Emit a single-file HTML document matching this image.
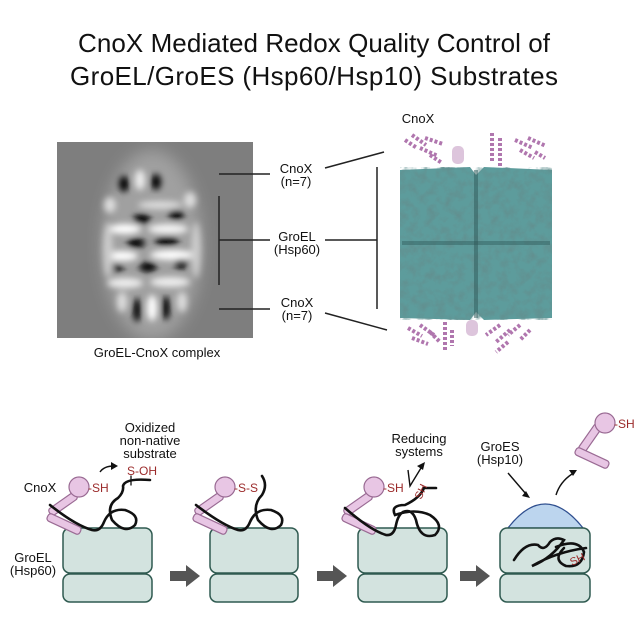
<!DOCTYPE html>
<html><head><meta charset="utf-8"><style>
html,body{margin:0;padding:0;background:#fff}
svg{display:block}
text{font-family:"Liberation Sans",Arial,sans-serif}
</style></head><body>
<svg width="640" height="640" viewBox="0 0 640 640" xmlns="http://www.w3.org/2000/svg">
<defs>
<filter id="b4" x="-50%" y="-50%" width="200%" height="200%"><feGaussianBlur stdDeviation="3.2"/></filter>
<filter id="b8" x="-50%" y="-50%" width="200%" height="200%"><feGaussianBlur stdDeviation="8"/></filter>
<filter id="tex" x="0" y="0" width="100%" height="100%">
<feTurbulence type="fractalNoise" baseFrequency="0.11" numOctaves="3" seed="5" result="n"/>
<feColorMatrix in="n" type="matrix" values="0 0 0 0 0.12  0 0 0 0 0.28  0 0 0 0 0.28  0 0 0 -2.2 1.35" result="c"/>
<feComposite in="c" in2="SourceGraphic" operator="in"/>
</filter>
<clipPath id="emclip"><rect x="57" y="142" width="196" height="196"/></clipPath>
</defs>
<rect width="640" height="640" fill="#fff"/>
<text x="314" y="52" font-size="26" text-anchor="middle" textLength="472" fill="#111">CnoX Mediated Redox Quality Control of</text>
<text x="314" y="85" font-size="26" text-anchor="middle" textLength="488" fill="#111">GroEL/GroES (Hsp60/Hsp10) Substrates</text>

<!-- EM image -->
<g clip-path="url(#emclip)">
<rect x="57" y="142" width="196" height="196" fill="#7e7e7e"/>
<ellipse cx="152" cy="245" rx="50" ry="95" fill="#a0a0a0" filter="url(#b8)"/>
<g filter="url(#b4)">
<ellipse cx="140" cy="180" rx="5" ry="10" fill="#eee"/>
<ellipse cx="110" cy="205" rx="6" ry="8" fill="#ddd"/>
<ellipse cx="190" cy="200" rx="6" ry="8" fill="#ddd"/>
<ellipse cx="160" cy="205" rx="22" ry="4" fill="#ddd"/>
<ellipse cx="125" cy="229" rx="16" ry="5" fill="#fff"/>
<ellipse cx="168" cy="229" rx="20" ry="5" fill="#f4f4f4"/>
<ellipse cx="122" cy="256" rx="16" ry="5" fill="#fff"/>
<ellipse cx="172" cy="255" rx="22" ry="5" fill="#fff"/>
<ellipse cx="125" cy="283" rx="18" ry="5" fill="#eee"/>
<ellipse cx="170" cy="282" rx="20" ry="5" fill="#eee"/>
<ellipse cx="108" cy="250" rx="5" ry="28" fill="#ccc"/>
<ellipse cx="196" cy="250" rx="5" ry="28" fill="#ccc"/>
<ellipse cx="152" cy="308" rx="5" ry="13" fill="#fff"/>
<ellipse cx="122" cy="302" rx="5" ry="10" fill="#ddd"/>
<ellipse cx="182" cy="302" rx="5" ry="10" fill="#ddd"/>
<ellipse cx="124" cy="184" rx="5" ry="8" fill="#000"/>
<ellipse cx="156" cy="182" rx="5" ry="8" fill="#000"/>
<ellipse cx="142" cy="219" rx="9" ry="5" fill="#000"/>
<ellipse cx="176" cy="215" rx="8" ry="5" fill="#000"/>
<ellipse cx="136" cy="243" rx="9" ry="5" fill="#000"/>
<ellipse cx="167" cy="241" rx="12" ry="5" fill="#000"/>
<ellipse cx="118" cy="268" rx="6" ry="4" fill="#111"/>
<ellipse cx="148" cy="267" rx="9" ry="5" fill="#000"/>
<ellipse cx="181" cy="264" rx="7" ry="5" fill="#000"/>
<ellipse cx="137" cy="310" rx="4" ry="12" fill="#000"/>
<ellipse cx="166" cy="308" rx="4" ry="12" fill="#000"/>
</g>
</g>
<text x="157" y="357" font-size="13" text-anchor="middle" fill="#111">GroEL-CnoX complex</text>

<!-- lines -->
<g stroke="#222" stroke-width="1.5" fill="none">
<line x1="219" y1="174" x2="270" y2="174"/>
<line x1="219" y1="196" x2="219" y2="285"/>
<line x1="219" y1="240" x2="270" y2="240"/>
<line x1="219" y1="309" x2="270" y2="309"/>
<line x1="325" y1="168" x2="384" y2="152"/>
<line x1="325" y1="240" x2="377" y2="240"/>
<line x1="377" y1="167" x2="377" y2="309"/>
<line x1="325" y1="313" x2="387" y2="330"/>
</g>
<g font-size="13" text-anchor="middle" fill="#111">
<text x="296" y="173">CnoX</text><text x="296" y="186">(n=7)</text>
<text x="297" y="241">GroEL</text><text x="297" y="254">(Hsp60)</text>
<text x="297" y="307">CnoX</text><text x="297" y="320">(n=7)</text>
<text x="418" y="123">CnoX</text>
</g>

<!-- protein -->
<g>
<path d="M400 170 L470 167 L476 175 L484 167 L552 170 L552 318 L484 320 L476 312 L470 320 L400 318 Z" fill="#5d9c9c"/>
<rect x="400" y="167" width="152" height="153" fill="#000" filter="url(#tex)"/>
<line x1="476" y1="170" x2="476" y2="318" stroke="#2f5a5a" stroke-width="4" opacity="0.5"/>
<line x1="402" y1="243" x2="550" y2="243" stroke="#2f5a5a" stroke-width="4" opacity="0.45"/>
<g fill="none" stroke="#a868a6" stroke-width="4" stroke-dasharray="3 2" opacity="0.9">
<path d="M405 140 l12 8 M412 135 l14 10 M420 148 l18 8 M425 138 l18 6 M430 155 l12 8"/>
<path d="M492 133 v30 M500 138 v28"/>
<path d="M515 140 l18 8 M520 150 l14 8 M528 138 l18 8 M535 152 l10 6"/>
<path d="M408 328 l14 8 M412 338 l16 6 M420 325 l14 10 M430 332 l10 10"/>
<path d="M445 322 v30 M452 330 v16"/>
<path d="M500 325 l-14 10 M510 330 l-14 12 M520 325 l-12 10 M530 330 l-10 10 M508 342 l-12 10"/>
</g>
<g fill="#d4b6d3" opacity="0.8">
<rect x="452" y="146" width="12" height="18" rx="5"/>
<rect x="466" y="320" width="12" height="16" rx="5"/>
</g>
</g>

<!-- bottom panels -->
<g stroke="#2f5a50" stroke-width="1.5" fill="#d3e3df">
<rect x="63" y="528" width="89" height="45" rx="7"/>
<rect x="63" y="574" width="89" height="28" rx="7"/>
<rect x="210" y="528" width="88" height="45" rx="7"/>
<rect x="210" y="574" width="88" height="28" rx="7"/>
<rect x="358" y="528" width="89" height="45" rx="7"/>
<rect x="358" y="574" width="89" height="28" rx="7"/>
</g>
<path d="M508 528 Q545 480 583 528 Z" fill="#bcd5ee" stroke="#2f4f8f" stroke-width="1.3"/>
<g stroke="#2f5a50" stroke-width="1.5" fill="#d3e3df">
<rect x="500" y="528" width="90" height="45" rx="7"/>
<rect x="500" y="574" width="90" height="28" rx="7"/>
</g>
<g fill="#555">
<path d="M170 571 h16 v-6 l14 11 l-14 11 v-6 h-16z"/>
<path d="M317 571 h16 v-6 l14 11 l-14 11 v-6 h-16z"/>
<path d="M460 571 h16 v-6 l14 11 l-14 11 v-6 h-16z"/>
</g>

<g fill="#e8c6e4" stroke="#9a6b94" stroke-width="1.2">
<g>
<rect x="47" y="500" width="32" height="8" rx="3" transform="rotate(-35 63 504)"/>
<rect x="46" y="520" width="36" height="8" rx="3" transform="rotate(25 64 524)"/>
<circle cx="79" cy="487" r="10"/>
</g>
<g transform="translate(146,0)">
<rect x="47" y="500" width="32" height="8" rx="3" transform="rotate(-35 63 504)"/>
<rect x="46" y="520" width="36" height="8" rx="3" transform="rotate(25 64 524)"/>
<circle cx="79" cy="487" r="10"/>
</g>
<g transform="translate(295,0)">
<rect x="47" y="500" width="32" height="8" rx="3" transform="rotate(-35 63 504)"/>
<rect x="46" y="520" width="36" height="8" rx="3" transform="rotate(25 64 524)"/>
<circle cx="79" cy="487" r="10"/>
</g>
<rect x="574" y="434" width="32" height="8" rx="3" transform="rotate(-55 590 438)"/>
<rect x="574" y="454" width="36" height="8" rx="3" transform="rotate(25 592 458)"/>
<circle cx="605" cy="423" r="10"/>
</g>

<g fill="none" stroke="#111" stroke-width="2.6" stroke-linecap="round">
<path d="M50 505 Q75 525 92 530 Q100 532 104 522 Q110 508 125 510 Q140 515 135 525 Q125 535 112 520 Q106 505 118 498 Q124 492 123 486 Q125 478 150 480"/>
<path d="M196 505 Q222 525 238 530 Q246 532 250 522 Q256 508 271 510 Q286 515 281 525 Q271 535 258 520 Q252 505 262 495 Q268 485 262 476"/>
<path d="M345 508 Q370 530 386 535 Q394 536 396 525 Q398 515 403 512 Q412 508 416 520 Q420 540 435 535 Q445 525 430 515 Q415 508 395 515 Q390 505 405 505 Q420 498 424 488 L436 488"/>
<path d="M514 560 Q525 542 538 545 Q544 552 550 542 Q556 536 564 540 Q552 558 532 566 Q556 552 586 548 M556 547 Q578 538 584 552 Q582 568 566 566 Q552 560 564 548"/>
<path d="M131 476 V485" stroke-width="1.3"/>
</g>
<g fill="none" stroke="#111" stroke-width="1.4">
<path d="M100 472 Q104 466 114 466"/>
<path d="M408 470 L410 486 L421 468"/>
<path d="M508 473 L526 494"/>
<path d="M556 495 Q560 482 572 474"/>
</g>
<g fill="#111">
<path d="M118 466 l-7 -4 v8z"/>
<path d="M425 462 l-8 4 l6 4z"/>
<path d="M530 498 l-8 -2 l4 -5z"/>
<path d="M577 470 l-8 0 l4 6z"/>
</g>

<g font-size="12" fill="#9b2a2a">
<text x="88" y="492">-SH</text>
<text x="127" y="475">S-OH</text>
<text x="234" y="492">-S-S</text>
<text x="383" y="492">-SH</text>
<text x="614" y="428">-SH</text>
<text x="0" y="0" transform="translate(421,500) rotate(-65)" font-size="11">SH</text>
<text x="0" y="0" transform="translate(572,566) rotate(-25)" font-size="11">SH</text>
</g>
<g font-size="13" fill="#111" text-anchor="middle">
<text x="150" y="432">Oxidized</text>
<text x="150" y="445">non-native</text>
<text x="150" y="458">substrate</text>
<text x="40" y="492">CnoX</text>
<text x="33" y="562">GroEL</text>
<text x="33" y="575">(Hsp60)</text>
<text x="419" y="443">Reducing</text>
<text x="419" y="456">systems</text>
<text x="500" y="451">GroES</text>
<text x="500" y="464">(Hsp10)</text>
</g>
</svg>
</body></html>
